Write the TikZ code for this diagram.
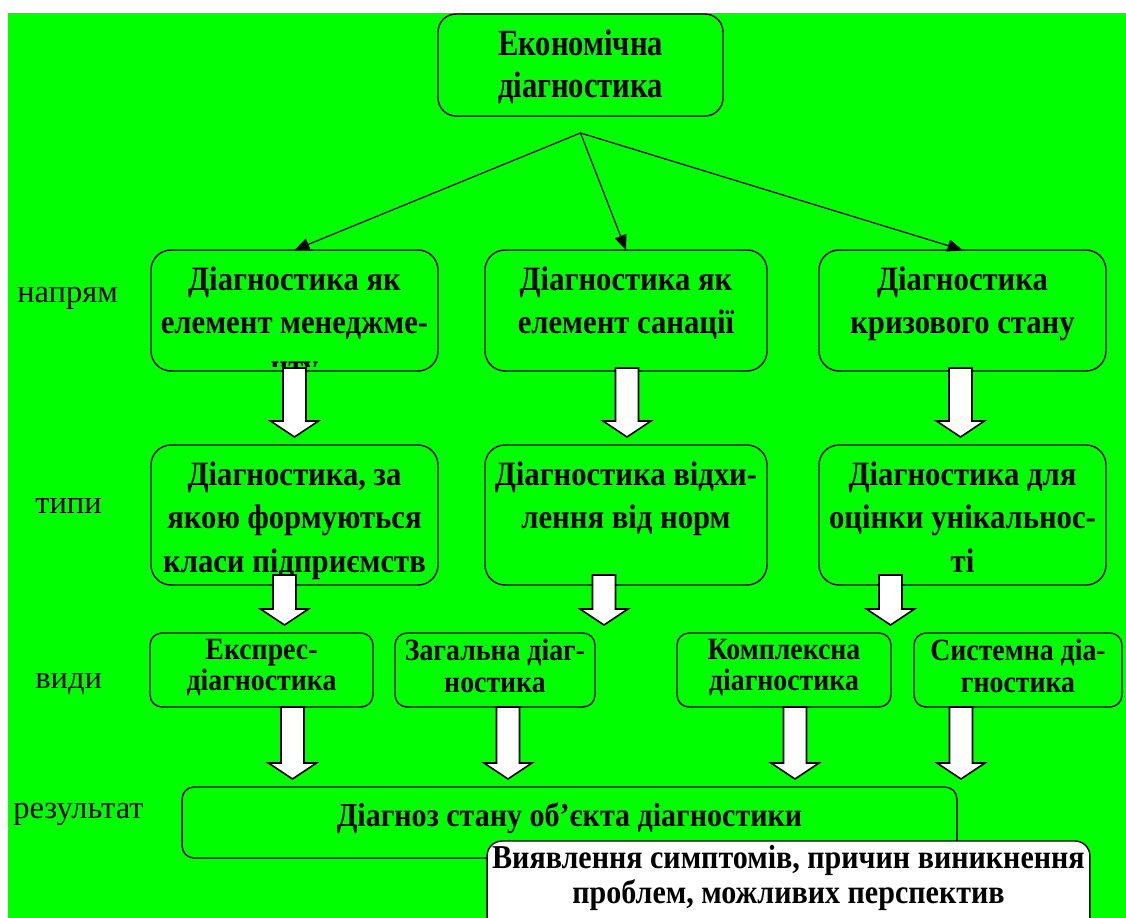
\documentclass[tikz,border=0pt]{standalone}
\usepackage{fontspec}
\setmainfont{Liberation Serif}
\newfontfamily\tallfont[FakeStretch=0.9]{Liberation Serif}
\newfontfamily\toptallfont[FakeStretch=0.83]{Liberation Serif}
\usetikzlibrary{arrows.meta, calc, positioning}
\definecolor{fieldgreen}{RGB}{0,255,0}

\begin{document}
\begin{tikzpicture}[x=0.02cm, y=-0.02cm,% pixel units, y downwards
         > = {Triangle[length=8.5pt, width=7pt]},
box/.style = {draw, line width=0.8pt, rounded corners=0.4cm,
              inner sep=0pt, outer sep=0pt, node contents={}},
txt/.style args = {#1/#2}{align=center, inner sep=0pt,
              font=\tallfont\fontsize{#1}{#2}\selectfont\bfseries},
lbl/.style = {anchor=base west, inner sep=0pt,
              font=\fontsize{18.5}{21}\selectfont},
fat/.style = {draw, fill=white, line width=0.9pt,
              to path={let \p1=(\tikztostart), \p2=(\tikztotarget) in
                (\x1-0.23cm,\y1) -- (\x1+0.23cm,\y1)
                -- (\x1+0.23cm,\y2+0.48cm) -- (\x1+0.48cm,\y2+0.48cm)
                -- (\x1,\y2+0.16cm)
                -- (\x1-0.48cm,\y2+0.48cm) -- (\x1-0.23cm,\y2+0.48cm) -- cycle}}
                        ]
	% page and green field
	\useasboundingbox (0,0) rectangle (1126,918);
	\fill[white] (0,0) rectangle (1126,918);
	\fill[fieldgreen] (8,13) rectangle (1126,918);

	% top box
	\node (root) at (580.5,65) [box, rounded corners=0.36cm, minimum width=5.7cm, minimum height=2.04cm];
	\node[txt=21/23.8, font=\toptallfont\fontsize{21}{23.8}\selectfont\bfseries,
	      below=0.31cm of root.north] (roott) {Економічна\\діагностика};

	% row labels
	\node[lbl] (l1) at (17,303) {напрям};
	\node[lbl] (l2) at (35,514) {типи};
	\node[lbl] (l3) at (35,688) {види};
	\node[lbl] (l4) at (13,818) {результат};

	% напрям
	\node (b1) at (294.5,310.5) [box, minimum width=5.74cm, minimum height=2.42cm];
	\node (b2) at (626,310.5) [box, minimum width=5.64cm, minimum height=2.42cm];
	\node (b3) at (962.5,310.5) [box, minimum width=5.74cm, minimum height=2.42cm];
	\begin{scope}
		\clip (b1.north west) rectangle ($(b1.south east)+(0,-4)$);
		\node[txt=19.4/24.7, below=0.33cm of b1.north] (b1t) {Діагностика як\\елемент менеджме-\\нту};
	\end{scope}
	\node[txt=19.4/24.7, below=0.33cm of b2.north] (b2t) {Діагностика як\\елемент санації};
	\node[txt=19.4/24.7, below=0.33cm of b3.north] (b3t) {Діагностика\\кризового стану};

	% типи
	\node (t1) at (294.5,515) [box, minimum width=5.74cm, minimum height=2.8cm];
	\node (t2) at (626,515) [box, minimum width=5.64cm, minimum height=2.8cm];
	\node (t3) at (962.5,515) [box, minimum width=5.74cm, minimum height=2.8cm];
	\node[txt=19.4/24.7, below=0.33cm of t1.north] (t1t) {Діагностика, за\\якою формуються\\класи підприємств};
	\node[txt=19.4/24.7, below=0.33cm of t2.north] (t2t) {Діагностика відхи-\\лення від норм};
	\node[txt=19.4/24.7, below=0.33cm of t3.north] (t3t) {Діагностика для\\оцінки унікальнос-\\ті};

	% види
	\node (v1) at (261.5,670) [box, rounded corners=0.24cm, minimum width=4.46cm, minimum height=1.48cm];
	\node (v2) at (495,670) [box, rounded corners=0.24cm, minimum width=4.0cm, minimum height=1.48cm];
	\node (v3) at (784,670) [box, rounded corners=0.24cm, minimum width=4.28cm, minimum height=1.48cm];
	\node (v4) at (1018,670) [box, rounded corners=0.24cm, minimum width=4.16cm, minimum height=1.48cm];
	\node[txt=17.6/18.1, below=0.11cm of v1.north] (v1t) {Експрес-\\діагностика};
	\node[txt=17.6/18.1, below=0.11cm of v2.north] (v2t) {Загальна діаг-\\ностика};
	\node[txt=17.6/18.1, below=0.11cm of v3.north] (v3t) {Комплексна\\діагностика};
	\node[txt=17.6/18.1, below=0.11cm of v4.north] (v4t) {Системна діа-\\гностика};

	% результат
	\node (res) at (569.5,822.5) [box, rounded corners=0.24cm, minimum width=15.5cm, minimum height=1.42cm];
	\node[txt=19/22, below=0.3cm of res.north] (rest) {Діагноз стану об’єкта діагностики};

	% thin arrows
	\coordinate (fork) at ($(root.south)+(0,17)$);
	\foreach \k in {b1,b2,b3}
		\draw[->, line width=0.7pt] (fork) -- (\k.north);

	% block arrows
	\draw[fat] ($(b1.south)+(0,-3)$) to (t1.north);
	\draw[fat] ($(b2.south)+(1,-3)$) to (t2.north);
	\draw[fat] ($(b3.south)+(-2,-3)$) to (t3.north);
	\draw[fat] ($(t1.south)+(-10,-10)$) to (v1.north);
	\draw[fat] ($(t2.south)+(-22,-10)$) to (v2.north);
	\draw[fat] ($(t3.south)+(-72,-10)$) to (v3.north);
	\draw[fat] ($(v1.south)+(31,0)$) to (res.north);
	\draw[fat] ($(v2.south)+(13,0)$) to (res.north);
	\draw[fat] ($(v3.south)+(11,0)$) to (res.north);
	\draw[fat] ($(v4.south)+(-57,0)$) to (res.north);

	% note on top
	\node (note) at (788.5,891) [box, fill=white, rounded corners=0.3cm, minimum width=12.06cm, minimum height=2cm];
	\node[txt=19/19.8, below=0.08cm of note.north] (notet) {Виявлення симптомів, причин виникнення\\проблем, можливих перспектив};
\end{tikzpicture}
\end{document}
